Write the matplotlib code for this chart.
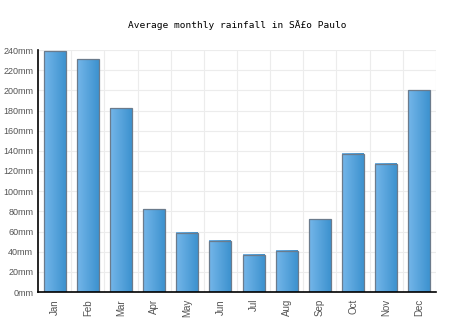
import numpy as np
import matplotlib
matplotlib.use("Agg")
import matplotlib.pyplot as plt
from matplotlib.colors import LinearSegmentedColormap

months = ['Jan', 'Feb', 'Mar', 'Apr', 'May', 'Jun', 'Jul', 'Aug', 'Sep', 'Oct', 'Nov', 'Dec']
rainfall = [239, 231, 182, 82, 59, 51, 37, 41, 72, 137, 127, 200]
y_ticks = list(range(0, 241, 20))
y_labels = [str(v) + 'mm' for v in y_ticks]

fig = plt.figure(figsize=(4.74, 3.31), dpi=100)
ax = fig.add_axes([38 / 474, 39 / 331, 398 / 474, 242 / 331])

# degradado horizontal de cada barra
cmap = LinearSegmentedColormap.from_list('barra', ['#74b6e9', '#3d92cf'])
grad = np.linspace(0, 1, 64).reshape(1, -1)
ancho = 0.66
for i, valor in enumerate(rainfall):
    x0 = i - ancho / 2
    ax.imshow(grad, extent=[x0, x0 + ancho, 0, valor], aspect='auto', cmap=cmap, zorder=2)
    ax.add_patch(plt.Rectangle((x0, 0), ancho, valor, fill=False,
                               edgecolor='#6b7b8c', linewidth=0.9, zorder=3))

ax.set_xlim(-0.5, len(months) - 0.5)
ax.set_ylim(0, 240)

# rejilla: verticales entre meses, horizontales cada 20mm
for k in range(1, len(months) + 1):
    ax.axvline(k - 0.5, color='#ececec', linewidth=0.8, zorder=1)
for v in y_ticks[1:]:
    ax.axhline(v, color='#ececec', linewidth=0.8, zorder=1)

ax.set_xticks(range(len(months)))
ax.set_xticklabels(months, rotation=90, fontsize=7, color='#555555', family='Liberation Sans')
ax.set_yticks(y_ticks)
ax.set_yticklabels(y_labels, fontsize=6.5, color='#555555', family='Liberation Sans')
ax.tick_params(axis='y', length=0, pad=3.5)
ax.tick_params(axis='x', length=0, pad=5)

for lado in ['top', 'right']:
    ax.spines[lado].set_visible(False)
ax.spines['left'].set_linewidth(1.2)
ax.spines['bottom'].set_linewidth(1.2)
ax.spines['left'].set_zorder(4)
ax.spines['bottom'].set_zorder(4)

fig.text(237 / 474, 1 - 25 / 331, 'Average monthly rainfall in SÃ£o Paulo',
         ha='center', va='center', fontsize=6.8, family='DejaVu Sans Mono')

fig.savefig('out.png', dpi=100)
